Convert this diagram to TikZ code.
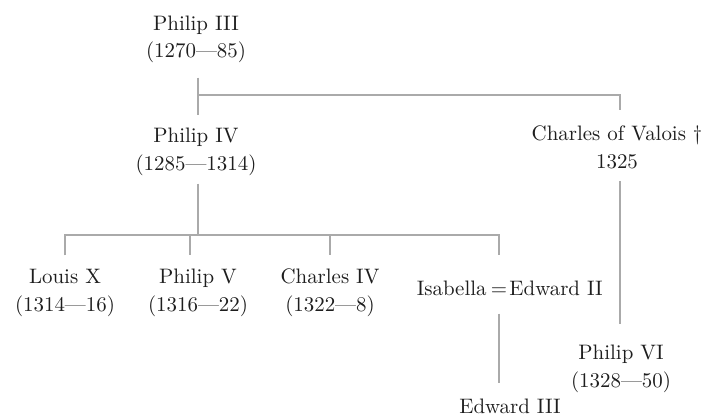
\documentclass[tikz,border=0pt]{standalone}
\usepackage{tikz}
\usetikzlibrary{arrows,shapes}
\definecolor{treeline}{RGB}{170,170,170}
\definecolor{nametext}{RGB}{30,30,30}

\begin{document}
\begin{tikzpicture}[xscale=.5, yscale=-.5]
      \tikzstyle{every node}=[font=\fontsize{10.5}{14}\selectfont, text=nametext, inner sep=0pt, anchor=base, align=center]
      \tikzstyle{tree}=[draw=treeline, line width=1bp]
      \useasboundingbox (0bp,0bp) rectangle (715bp,416bp);
      %%
  \node (p3) at (196bp,58bp) {Philip III\\(1270---85)};
  \node (p4) at (196bp,170bp) {Philip IV\\(1285---1314)};
  \node (cv) at (617bp,168bp) {Charles of Valois \textdagger\\1325};
  \node (lx) at (65bp,311bp) {Louis X\\(1314---16)};
  \node (pv) at (198bp,311bp) {Philip V\\(1316---22)};
  \node (c4) at (330bp,311bp) {Charles IV\\(1322---8)};
  \node (eq) at (499bp,295bp) {=};
  \node (isa) at (487bp,295bp) [anchor=base east] {Isabella};
  \node (e2) at (509bp,295bp) [anchor=base west] {Edward II};
  \node (p6) at (621bp,387bp) {Philip VI\\(1328---50)};
  \node (e3) at (510bp,413bp) {Edward III};
  \coordinate (j1) at (198bp,95bp);
  \coordinate (j2) at (198bp,235bp);
  \draw [tree, shorten <=7bp, shorten >=6bp] (j1 |- p3.south) -- (j1 |- p4.north);
  \draw [tree, shorten >=7.5bp] (j1) -| (cv.north -| 620bp,0);
  \draw [tree, shorten <=4bp] (j2 |- p4.south) -- (j2);
  \draw [tree, shorten <=6.5bp, shorten >=12.5bp] (lx.north) |- (j2) -| (isa.north -| eq);
  \draw [tree, shorten >=6.5bp] (j2 -| c4) -- (c4.north);
  \draw [tree, shorten >=6.5bp] (j2 -| 190bp,0) -- (pv.north -| 190bp,0);
  \draw [tree, shorten <=6bp, shorten >=10bp] (cv.south -| 620bp,0) -- (p6.north -| 620bp,0);
  \draw [tree, shorten <=9bp, shorten >=7.5bp] (isa.south -| eq) -- (e3.north -| eq);
%
\end{tikzpicture}
\end{document}
